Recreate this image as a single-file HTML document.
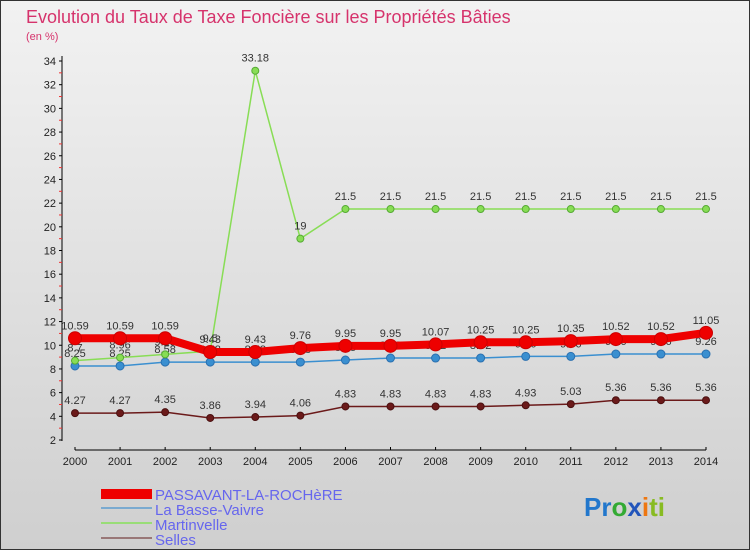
<!DOCTYPE html>
<html><head><meta charset="utf-8"><style>
body{margin:0;width:750px;height:550px;overflow:hidden;font-family:"Liberation Sans",sans-serif}
#wrap{position:relative;width:748px;height:548px;border:1px solid #333;background:linear-gradient(#f2f2f2,#cfcfcf)}
</style></head><body>
<div id="wrap">
<svg id="chart" width="748" height="548">
<text x="25" y="22" font-size="18" fill="#d6336c">Evolution du Taux de Taxe Foncière sur les Propriétés Bâties</text>
<text x="25" y="39" font-size="11" fill="#d6336c">(en %)</text>
<g id="axes"></g><g id="series"></g>
<g>
<rect x="100" y="488" width="51" height="10" fill="#ee0000"/>
<text x="154" y="499" font-size="15" fill="#6666ee">PASSAVANT-LA-ROCHèRE</text>
<rect x="100" y="506" width="51" height="2" fill="#7aaad0"/>
<text x="154" y="514" font-size="15" fill="#6666ee">La Basse-Vaivre</text>
<rect x="100" y="521" width="51" height="2" fill="#99dd77"/>
<text x="154" y="529" font-size="15" fill="#6666ee">Martinvelle</text>
<rect x="100" y="536" width="51" height="2" fill="#997777"/>
<text x="154" y="544" font-size="15" fill="#6666ee">Selles</text>
</g>
<text x="583" y="515" font-size="26" font-weight="bold"><tspan fill="#2277cc">Pr</tspan><tspan fill="#33aa33">o</tspan><tspan fill="#2255bb">x</tspan><tspan fill="#ee7711">i</tspan><tspan fill="#88bb22">ti</tspan></text>
</svg></div>
<script>
const years=[2000,2001,2002,2003,2004,2005,2006,2007,2008,2009,2010,2011,2012,2013,2014];
const yTicks=[2,4,6,8,10,12,14,16,18,20,22,24,26,28,30,32,34];
const passavant=[10.59,10.59,10.59,9.43,9.43,9.76,9.95,9.95,10.07,10.25,10.25,10.35,10.52,10.52,11.05];
const basseVaivre=[8.25,8.25,8.58,8.58,8.58,8.58,8.75,8.92,8.92,8.92,9.06,9.06,9.26,9.26,9.26];
const martinvelle=[8.7,8.96,9.23,9.5,33.18,19,21.5,21.5,21.5,21.5,21.5,21.5,21.5,21.5,21.5];
const selles=[4.27,4.27,4.35,3.86,3.94,4.06,4.83,4.83,4.83,4.83,4.93,5.03,5.36,5.36,5.36];
const NS="http://www.w3.org/2000/svg";
const x=i=>74+i*(631/14);
const y=v=>439-(v-2)*(379/32);
function mk(tag,attrs,parent,text){const e=document.createElementNS(NS,tag);for(const k in attrs)e.setAttribute(k,attrs[k]);if(text!==undefined)e.textContent=text;parent.appendChild(e);return e;}
const ax=document.getElementById('axes');
let a=mk('line',{x1:61,y1:55,x2:61,y2:440,stroke:'#000','stroke-width':1},ax);


a=mk('line',{x1:x(0),y1:449,x2:x(14),y2:449,stroke:'#000','stroke-width':1},ax);


yTicks.forEach(t=>{
 mk('line',{x1:58,y1:y(t),x2:61,y2:y(t),stroke:'#000'},ax);
 if(t<34)mk('line',{x1:58,y1:y(t+1),x2:61,y2:y(t+1),stroke:'#e33'},ax);
 const l=mk('text',{x:55,y:y(t)+4,'font-size':11,'text-anchor':'end',fill:'#222'},ax,t);
 
 
});
years.forEach((yr,i)=>{
 mk('line',{x1:x(i),y1:446,x2:x(i),y2:449,stroke:'#000'},ax);
 const l=mk('text',{x:x(i),y:464,'font-size':11,'text-anchor':'middle',fill:'#222'},ax,yr);
 
 
});
const sg=document.getElementById('series');
function series(vals,name,color,lw,r,dark){
 const g=mk('g',{},sg);
 
 
 const p=mk('polyline',{points:vals.map((v,i)=>x(i)+','+y(v)).join(' '),fill:'none',stroke:color,'stroke-width':lw},g);
 
 
 vals.forEach((v,i)=>{
  const c=mk('circle',{cx:x(i),cy:y(v),r:r,fill:color,stroke:dark,'stroke-width':1},g);
  
  
  const t=mk('text',{x:x(i),y:y(v)-9,'font-size':11,'text-anchor':'middle',fill:'#333'},g,String(v));
  
  
 });
}
series(selles,'selles','#6b1a1a',1.5,3.5,'#4a1010');
series(basseVaivre,'basse-vaivre','#3a8fd0',1.5,4,'#2a70b0');
series(martinvelle,'martinvelle','#88dd55',1.5,3.5,'#55aa33');
series(passavant,'passavant','#ee0000',8,6.5,'#cc0000');
</script>
</body></html>
